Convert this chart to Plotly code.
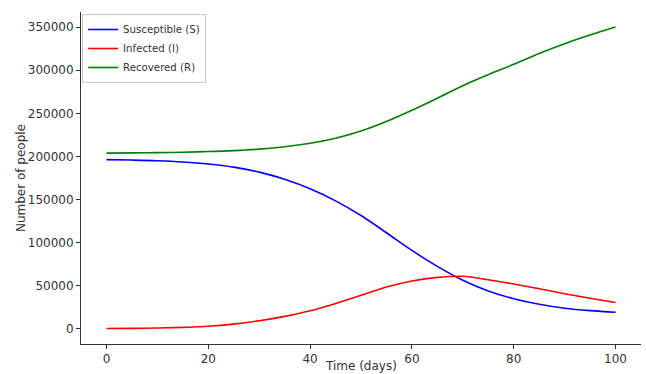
import plotly.graph_objects as go

days = [0, 5, 10, 15, 20, 25, 30, 35, 40, 45, 50, 55, 60, 65, 70, 75, 80, 85, 90, 95, 100]
susceptible = [196300, 195800, 195000, 193600, 191300, 187600, 181800, 173500, 162500, 148500,
               131500, 111500, 91000, 72500, 56500, 44000, 35000, 28500, 24000, 21200, 19300]
infected = [400, 650, 1050, 1800, 3000, 5600, 9400, 14500, 21000, 29500,
            39000, 48500, 55600, 59800, 61000, 57000, 52000, 46500, 40800, 35500, 30600]
recovered = [203900, 204100, 204400, 204900, 205700, 206800, 208500, 211200, 215300, 221200,
             229500, 240500, 253500, 267500, 282000, 294800, 306800, 319500, 330800, 340800, 350000]

x_ticks = [0, 20, 40, 60, 80, 100]
y_ticks = [0, 50000, 100000, 150000, 200000, 250000, 300000, 350000]

font = "DejaVu Sans, Liberation Sans, sans-serif"
text_color = "#333333"

fig = go.Figure()
series = [
    ("Susceptible (S)", susceptible, "#0000ff"),
    ("Infected (I)", infected, "#ff0000"),
    ("Recovered (R)", recovered, "#008000"),
]
for name, vals, color in series:
    fig.add_trace(go.Scatter(
        x=days, y=vals, mode="lines", name=name,
        line=dict(color=color, width=1.6, shape="spline", smoothing=1.0),
    ))

axis_common = dict(
    showgrid=False, zeroline=False, showline=True, linecolor="#333333", linewidth=1,
    ticks="outside", ticklen=4, tickwidth=1, tickcolor="#333333",
    tickfont=dict(family=font, size=12, color=text_color),
    mirror=False, automargin=False,
)

fig.update_layout(
    width=646, height=374,
    margin=dict(l=81, r=5, t=12, b=30),
    paper_bgcolor="white", plot_bgcolor="white",
    font=dict(family=font, size=12, color=text_color),
    showlegend=True,
    legend=dict(
        x=0.002, y=0.994, xanchor="left", yanchor="top",
        bgcolor="rgba(255,255,255,0.8)", bordercolor="#cccccc", borderwidth=1,
        font=dict(family=font, size=10.2, color=text_color),
        tracegroupgap=0, itemwidth=30,
    ),
    xaxis=dict(range=[-5, 105], tickvals=x_ticks, **axis_common),
    yaxis=dict(range=[-17500, 367500], tickvals=y_ticks, tickformat="d", **axis_common),
    annotations=[
        dict(text="Time (days)", xref="paper", yref="paper", x=0.5, y=-0.066,
             xanchor="center", yanchor="middle", showarrow=False,
             font=dict(family=font, size=12, color=text_color)),
        dict(text="Number of people", xref="paper", yref="paper", x=-0.107, y=0.5,
             xanchor="center", yanchor="middle", textangle=-90, showarrow=False,
             font=dict(family=font, size=12, color=text_color)),
    ],
)

fig.write_html("out.html", config={"displayModeBar": False},
               post_script="document.body.style.margin='0';")
